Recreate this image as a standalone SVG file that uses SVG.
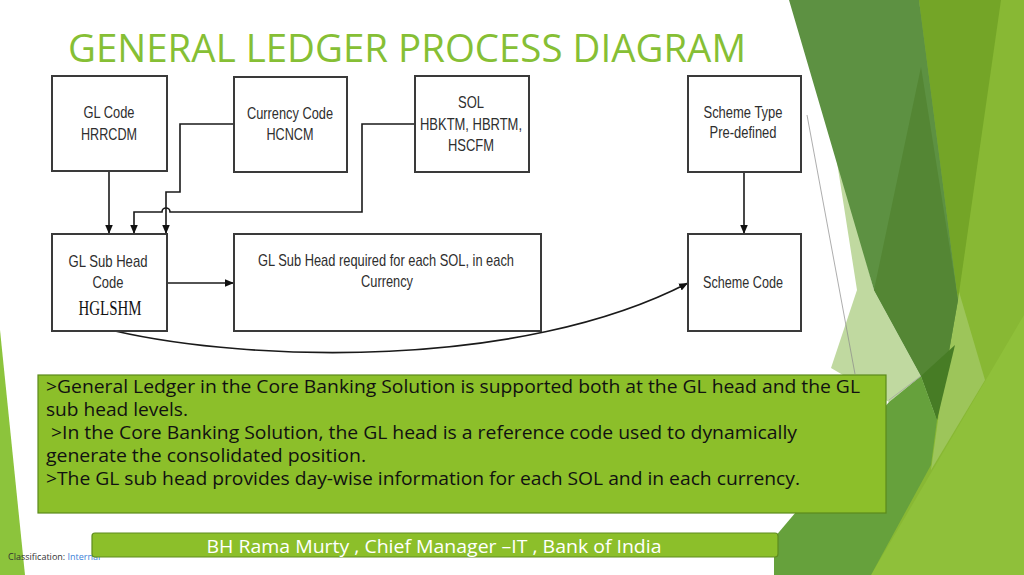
<svg xmlns="http://www.w3.org/2000/svg" width="1024" height="575" viewBox="0 0 1024 575">
<style>
.box{fill:#fff;stroke:#3a3a3a;stroke-width:2}
.nt{font-family:"Liberation Sans",Arial,sans-serif;font-size:17px;fill:#2e2e2e;text-anchor:middle}
.ser{font-family:"Liberation Serif","Times New Roman",serif;font-size:21px;fill:#111;text-anchor:middle}
.con{fill:none;stroke:#1a1a1a;stroke-width:1.6}
.para{font-family:"Open Sans","Noto Sans",sans-serif;font-size:18px;fill:#111}
</style>
<defs>
<marker id="ah" viewBox="0 0 10 10" refX="10" refY="5" markerWidth="9" markerHeight="9" markerUnits="userSpaceOnUse" orient="auto">
<path d="M0,0.8 L10,5 L0,9.2 z" fill="#111"/>
</marker>
</defs>
<rect width="1024" height="575" fill="#fff"/>
<g id="background">
<polygon points="0,330 25,575 0,575" fill="#8cc43c"/>
<polygon points="919,0 1024,0 1024,575 860,575 935,420" fill="#88b834"/>
<polygon points="1024,315 1024,575 871,575" fill="#8fc03a"/>
<polygon points="957,285 985,380 931,470" fill="#9dc55a"/>
<polygon points="919,0 1001,0 958,300" fill="#74a527"/>
<polygon points="834,143 874,290 921,376 889,402 831,368 857,290" fill="#c0d9a0"/>
<polygon points="789,0 919,0 958,300 937,420 921,376 874,290" fill="#5d9142"/>
<polygon points="921,67 958,300 937,420 921,376 874,290" fill="#548634"/>
<polygon points="921,376 955,345 937,420" fill="#477c25"/>
<polygon points="921,376 889,402 774,538 774,575 871,575 931,465 937,420" fill="#66a13c"/>
<line x1="807" y1="115" x2="855" y2="374" stroke="#8a8a8a" stroke-width="0.7"/>
<line x1="889" y1="400" x2="921" y2="376" stroke="#a0a0a0" stroke-width="0.7"/>
</g>
<text x="68" y="62" font-family="'Open Sans','Noto Sans',sans-serif" font-size="38" fill="#86bf35" textLength="678" lengthAdjust="spacingAndGlyphs">GENERAL LEDGER PROCESS DIAGRAM</text>
<g id="connectors">
<path class="con" d="M109,171 V234" marker-end="url(#ah)"/>
<path class="con" d="M234,124 H180 V192 H166 V234" marker-end="url(#ah)"/>
<path class="con" d="M415,124 H362 V212 H170 A4,4 0 0 0 162,212 H134 V234" marker-end="url(#ah)"/>
<path class="con" d="M167,283 H234" marker-end="url(#ah)"/>
<path class="con" d="M744,172 V234" marker-end="url(#ah)"/>
<path class="con" d="M115,331 C250,362 520,370 688,283" marker-end="url(#ah)"/>
</g>
<g id="gl-code">
<rect class="box" x="52" y="76" width="115" height="95"/>
<text class="nt" x="109" y="118" textLength="51" lengthAdjust="spacingAndGlyphs">GL Code</text>
<text class="nt" x="109" y="140" textLength="56" lengthAdjust="spacingAndGlyphs">HRRCDM</text>
</g>
<g id="currency-code">
<rect class="box" x="234" y="77" width="113" height="95"/>
<text class="nt" x="290" y="119" textLength="86" lengthAdjust="spacingAndGlyphs">Currency Code</text>
<text class="nt" x="290" y="140" textLength="47" lengthAdjust="spacingAndGlyphs">HCNCM</text>
</g>
<g id="sol">
<rect class="box" x="415" y="76" width="114" height="96"/>
<text class="nt" x="471" y="108" textLength="26" lengthAdjust="spacingAndGlyphs">SOL</text>
<text class="nt" x="471" y="130" textLength="102" lengthAdjust="spacingAndGlyphs">HBKTM, HBRTM,</text>
<text class="nt" x="471" y="151" textLength="46" lengthAdjust="spacingAndGlyphs">HSCFM</text>
</g>
<g id="scheme-type">
<rect class="box" x="688" y="76" width="113" height="96"/>
<text class="nt" x="743" y="118" textLength="79" lengthAdjust="spacingAndGlyphs">Scheme Type</text>
<text class="nt" x="743" y="138" textLength="67" lengthAdjust="spacingAndGlyphs">Pre-defined</text>
</g>
<g id="gl-sub-head-code">
<rect class="box" x="52" y="234" width="115" height="97"/>
<text class="nt" x="108" y="267" textLength="79" lengthAdjust="spacingAndGlyphs">GL Sub Head</text>
<text class="nt" x="108" y="288" textLength="31" lengthAdjust="spacingAndGlyphs">Code</text>
<text class="ser" x="110" y="315" textLength="63" lengthAdjust="spacingAndGlyphs">HGLSHM</text>
</g>
<g id="gl-sub-head-required">
<rect class="box" x="234" y="234" width="307" height="97"/>
<text class="nt" x="386" y="266" textLength="256" lengthAdjust="spacingAndGlyphs">GL Sub Head required for each SOL, in each</text>
<text class="nt" x="387" y="287" textLength="52" lengthAdjust="spacingAndGlyphs">Currency</text>
</g>
<g id="scheme-code">
<rect class="box" x="688" y="234" width="113" height="97"/>
<text class="nt" x="743" y="288" textLength="80" lengthAdjust="spacingAndGlyphs">Scheme Code</text>
</g>
<g id="description">
<rect x="38" y="375" width="848" height="138" fill="#8cbf2a" stroke="#5b8a1c" stroke-width="1.2"/>
<text class="para" x="46" y="393" textLength="814" lengthAdjust="spacingAndGlyphs">&gt;General Ledger in the Core Banking Solution is supported both at the GL head and the GL</text>
<text class="para" x="46" y="416" textLength="142" lengthAdjust="spacingAndGlyphs">sub head levels.</text>
<text class="para" x="51" y="439" textLength="746" lengthAdjust="spacingAndGlyphs">&gt;In the Core Banking Solution, the GL head is a reference code used to dynamically</text>
<text class="para" x="46" y="462" textLength="320" lengthAdjust="spacingAndGlyphs">generate the consolidated position.</text>
<text class="para" x="46" y="485" textLength="754" lengthAdjust="spacingAndGlyphs">&gt;The GL sub head provides day-wise information for each SOL and in each currency.</text>
</g>
<g id="classification">
<text x="8" y="560" font-family="'Open Sans','Noto Sans',sans-serif" font-size="9" fill="#333">Classification: <tspan fill="#3b82d8">Internal</tspan></text>
</g>
<g id="footer">
<rect x="92" y="533" width="686" height="24" rx="3" fill="#8cbf2a" stroke="#5e8c1e" stroke-width="1.2"/>
<text x="434" y="553" font-family="'Open Sans','Noto Sans',sans-serif" font-size="18" fill="#fff" text-anchor="middle" textLength="455" lengthAdjust="spacingAndGlyphs">BH Rama Murty , Chief Manager –IT , Bank of India</text>
</g>
</svg>
